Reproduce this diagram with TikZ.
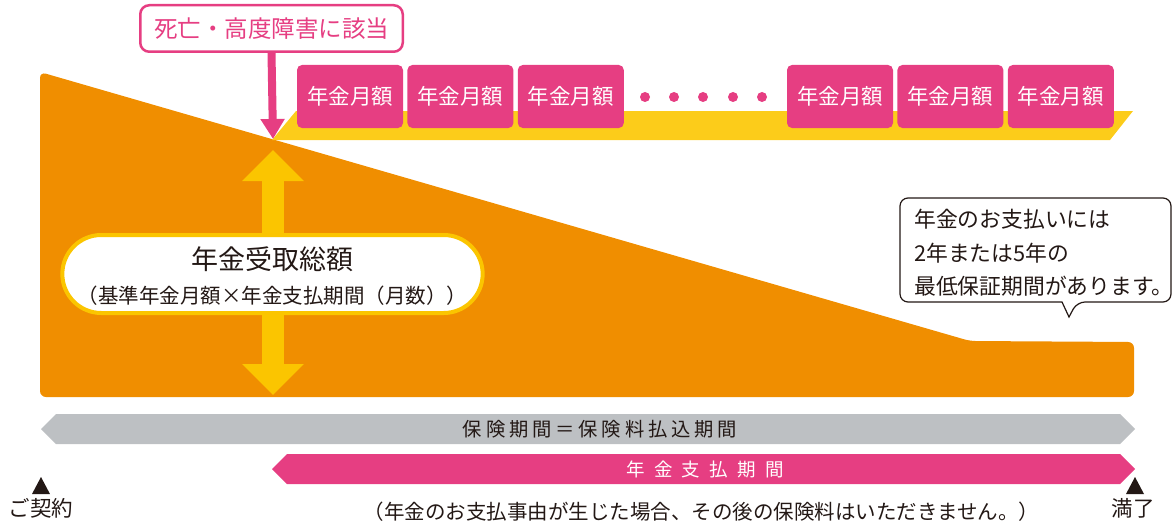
\documentclass[tikz,border=0pt]{standalone}
\usepackage{fontspec}
\setmainfont{Noto Sans CJK JP}
\newfontfamily\jpwide[LetterSpace=50]{Noto Sans CJK JP}
\newfontfamily\jpmid[LetterSpace=20]{Noto Sans CJK JP}
\usetikzlibrary{positioning,arrows.meta,shapes.misc}
\definecolor{jorange}{RGB}{240,142,0}
\definecolor{jyellow}{RGB}{252,204,26}
\definecolor{jgold}{RGB}{251,197,0}
\definecolor{jpink}{RGB}{230,62,130}
\definecolor{jgray}{RGB}{189,192,195}
\definecolor{jink}{RGB}{35,24,21}
\begin{document}
\begin{tikzpicture}[x=1pt, y=-1pt,
		monthbox/.style={fill=jpink, text=white, rounded corners=5pt, minimum width=106pt, minimum height=63pt, inner sep=0pt, font=\fontsize{21.5}{21.5}\selectfont},
		inktext/.style={text=jink, inner sep=0pt},
		bandtext/.style={inner sep=0pt, font=\fontsize{19}{19}\selectfont}]
	\useasboundingbox (0,0) rectangle (1173,527);
	\fill[jorange, rounded corners=6pt] (40,397) -- (40,72) -- (970,341) -- (1134,342) -- (1134,397) -- cycle;
	\fill[jyellow] (272,140) -- (296,111) -- (1133,111) -- (1110,140) -- cycle;
	\coordinate (start) at (273,139);
	\node[monthbox] (m1) at (350,96.5) {年金月額};
	\node[monthbox, right=4pt of m1] (m2) {年金月額};
	\node[monthbox, right=4pt of m2] (m3) {年金月額};
	\node[monthbox] (m4) at (840,96.5) {年金月額};
	\node[monthbox, right=4pt of m4] (m5) {年金月額};
	\node[monthbox, right=4pt of m5] (m6) {年金月額};
	\foreach \x in {645,674,703,733,762}
		\fill[jpink] (\x,97) circle (5pt);
	\node[draw=jpink, line width=2.5pt, fill=white, text=jpink, rounded corners=9pt, minimum width=262.5pt, minimum height=46.5pt, inner sep=0pt, font=\fontsize{23.5}{23.5}\selectfont] (event) at (271.5,28.5) {死亡・高度障害に該当};
	\draw[jpink, line width=8pt, -{Triangle[width=23pt,length=20pt]}] (event.south) -- (start);
	\coordinate (top) at (273,150);
	\coordinate (bottom) at (273,395);
	\draw[jgold, line width=22pt, {Triangle[width=60pt,length=31pt]}-{Triangle[width=60pt,length=31pt]}] (top) -- (bottom);
	\node[draw=jgold, line width=4pt, fill=white, rounded rectangle, minimum width=427pt, minimum height=78pt] (total) at (272.5,274) {};
	\node[inktext, font=\fontsize{27}{27}\selectfont] (title) at (272.5,259) {年金受取総額};
	\node[inktext, font=\fontsize{20.5}{20.5}\selectfont] (formula) at (272.5,296) {（基準年金月額×年金支払期間（月数））};
	\draw[jink, line width=1.2pt, fill=white, rounded corners=8pt] (900,198) -- (1171,198) -- (1171,302) -- (1077,302) [sharp corners] -- (1069,317) -- (1062,302) [rounded corners=8pt] -- (900,302) -- cycle;
	\node[inktext, anchor=west, align=left, font=\fontsize{21.8}{33.5}\selectfont] (note) at (914,253) {年金のお支払いには\\2年または5年の\\最低保証期間があります。};
	\fill[jgray] (41,429) -- (56,414) -- (1120,414) -- (1135,429) -- (1120,444) -- (56,444) -- cycle;
	\node[bandtext, text=jink, font=\jpmid\fontsize{19.3}{19.3}\selectfont] (insured) at (600,429) {保険期間＝保険料払込期間};
	\fill[jpink] (272,469) -- (287,454) -- (1120,454) -- (1135,469) -- (1120,484) -- (287,484) -- cycle;
	\node[bandtext, text=white, font=\jpwide\fontsize{18.5}{18.5}\selectfont] (paying) at (705,469) {年金支払期間};
	\fill[jink] (32,494) -- (41,477) -- (50,494) -- cycle;
	\fill[jink] (1126,494) -- (1135,477) -- (1144,494) -- cycle;
	\node[inktext, font=\fontsize{21.5}{21.5}\selectfont] (contract) at (41,508) {ご契約};
	\node[inktext, font=\fontsize{21.5}{21.5}\selectfont] (expiry) at (1133,508) {満了};
	\node[inktext, font=\fontsize{20.5}{20.5}\selectfont] (remark) at (701.5,512) {（年金のお支払事由が生じた場合、その後の保険料はいただきません。）};
\end{tikzpicture}
\end{document}
